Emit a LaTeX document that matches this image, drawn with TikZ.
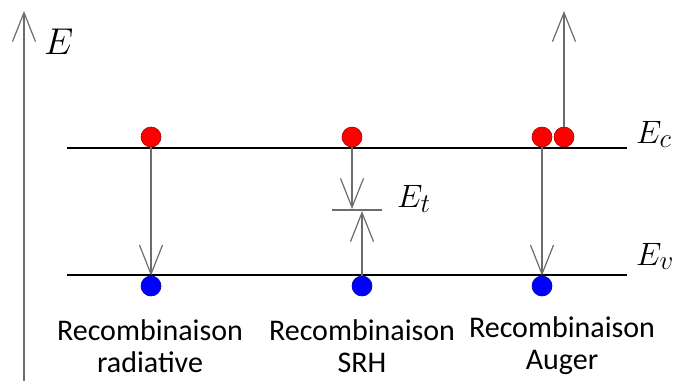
\documentclass[tikz,border=0pt]{standalone}
\usepackage{graphicx}
\usepackage{fontspec}
\setmainfont{Carlito}
\usetikzlibrary{arrows.meta}
\newcommand{\bigsym}[2]{\scalebox{#1}{$#2$}}
\begin{document}
\begin{tikzpicture}[x=1pt,y=-1pt,
  level/.style={line width=2.8pt, black},
  trans/.style={draw=gray!85!black, line width=1.2pt, -{Straight Barb[length=29pt,width=23pt,line width=1.2pt]}},
  elec/.style={circle, fill=red, draw=red!65!black, line width=0.6pt, minimum size=20pt, inner sep=0pt},
  hole/.style={circle, fill=blue, draw=blue!65!black, line width=0.6pt, minimum size=20pt, inner sep=0pt},
  lab/.style={font=\fontsize{30}{32}\selectfont, align=center},
  sym/.style={font=\fontsize{24.88}{30}\selectfont, inner sep=0pt, anchor=base west}]
\useasboundingbox (0,0) rectangle (674,381);
% energy axis
\coordinate (axb) at (24,381);
\coordinate (axt) at (24,11);
\draw[trans] (axb) -- (axt);
\node[sym] (E) at (44,54) {\bigsym{1.5}{E}};
% band edges
\coordinate (cl) at (67,148); \coordinate (cr) at (627,148);
\coordinate (vl) at (67,275); \coordinate (vr) at (627,275);
\draw[level] (cl) -- (cr);
\draw[level] (vl) -- (vr);
\node[sym] (Ec) at (636,143) {\bigsym{1.3}{E_c}};
\node[sym] (Ev) at (636,265) {\bigsym{1.3}{E_v}};
% carriers
\node[elec] (e1) at (151,137) {};
\node[elec] (e2) at (352,137) {};
\node[elec] (e3) at (542,137) {};
\node[elec] (e4) at (564,137) {};
\node[hole] (h1) at (151,286) {};
\node[hole] (h2) at (362,286) {};
\node[hole] (h3) at (542,286) {};
% radiative
\draw[trans] (e1.south) -- (h1.north);
% SRH
\coordinate (tl) at (332,210); \coordinate (tr) at (382,210);
\draw[gray!85!black, line width=1.2pt] (tl) -- (tr);
\coordinate (td) at (352,209);
\coordinate (tu) at (362,211);
\draw[trans] (e2.south) -- (td);
\draw[trans] (h2.north) -- (tu);
\node[sym] (Et) at (397,207) {\bigsym{1.3}{E_t}};
% Auger
\draw[trans] (e3.south) -- (h3.north);
\coordinate (top) at (564,11);
\draw[trans] (e4.north) -- (top);
% labels
\node[lab] (l1) at (150,346) {Recombinaison\\radiative};
\node[lab] (l2) at (362,346) {Recombinaison\\SRH};
\node[lab] (l3) at (562,346) {Recombinaison\\Auger};
\end{tikzpicture}
\end{document}
